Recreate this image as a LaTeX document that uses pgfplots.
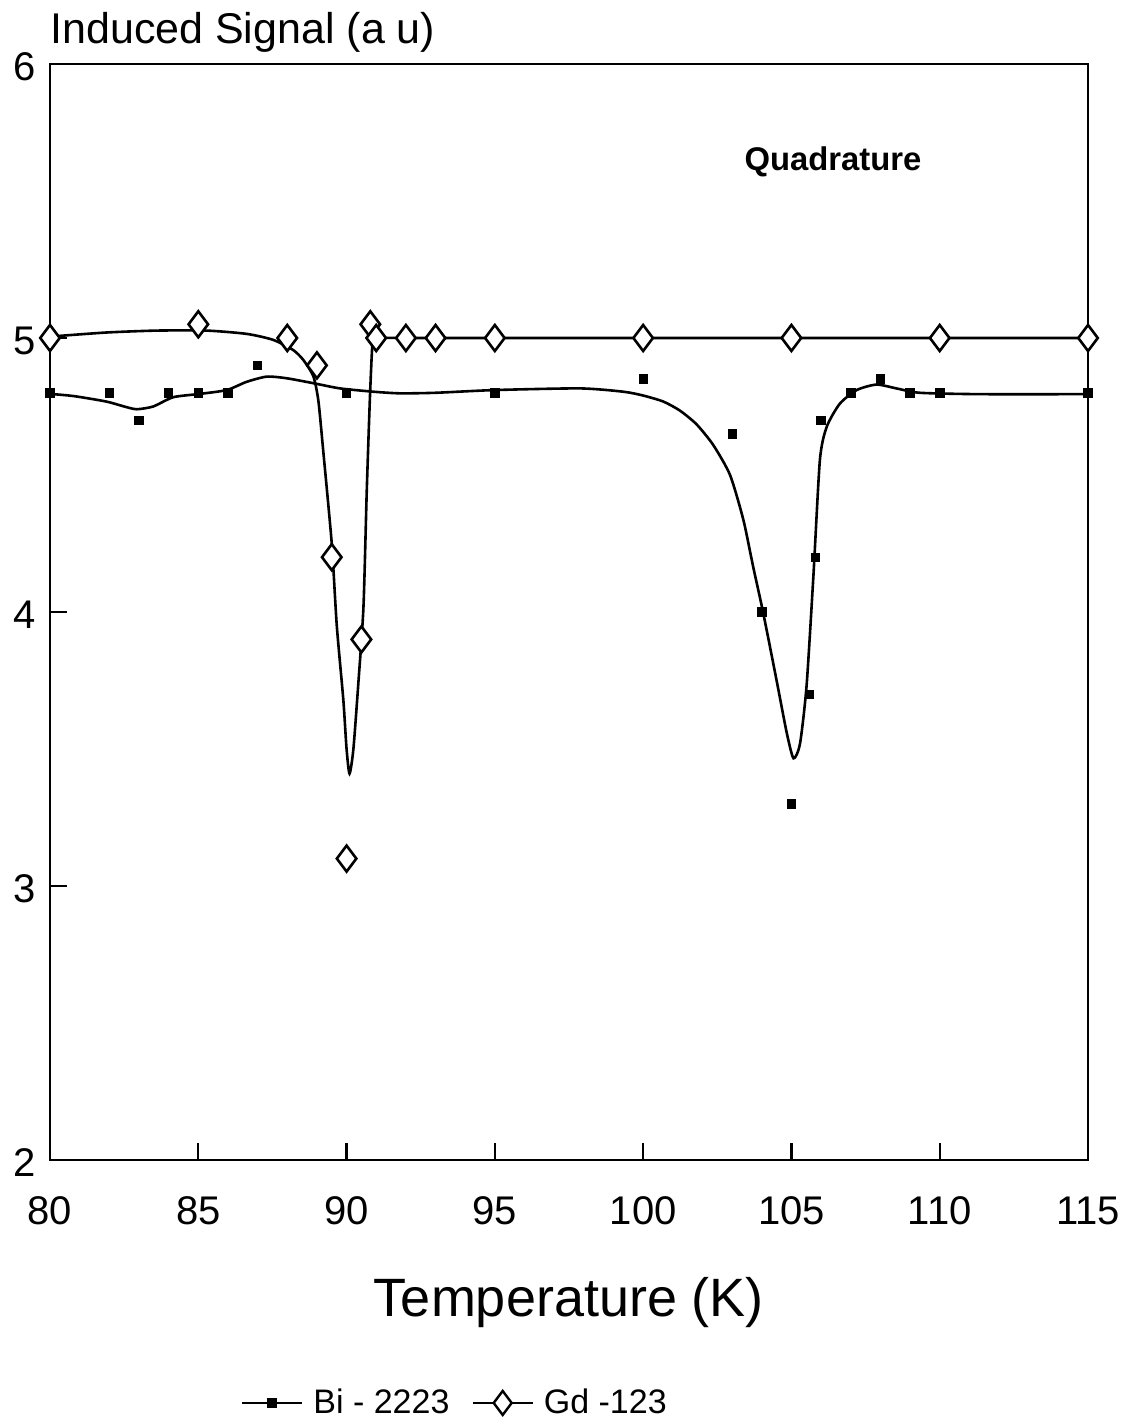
\documentclass[border=0pt]{standalone}
\usepackage{pgfplots}
\pgfplotsset{compat=1.18}
\usepackage{fontspec}
\setmainfont{Liberation Sans}
\begin{document}
\begin{tikzpicture}
\begin{axis}[name=ax,
  at={(25pt,131.5pt)}, anchor=south west,
  width=519pt, height=548pt, scale only axis,
  xmin=80, xmax=115, ymin=2, ymax=6,
  xtick={80,85,...,115}, ytick={2,3,4,5,6},
  xtick pos=bottom, ytick pos=left,
  tick align=inside, major tick length=8.5pt,
  axis line style={line width=1.3pt},
  tick style={line width=1.1pt, black},
  /pgf/number format/assume math mode=true,
  ticklabel style={font=\fontsize{20}{24}\selectfont},
  xticklabel style={yshift=-15pt},
  yticklabel style={xshift=-3.5pt, yshift=-1.5pt},
  legend style={draw=none, fill=none, at={(0.391,-0.2217)}, anchor=center,
    font=\fontsize{17}{20}\selectfont,
    /tikz/every odd column/.append style={column sep=3pt},
    /tikz/every even column/.append style={column sep=9pt}},
  legend columns=2,
  legend image code/.code={\draw[mark repeat=2,mark phase=2,#1] plot coordinates {(0pt,0pt) (15pt,0pt) (30pt,0pt)};},
]
% fitted curves
\addplot[black, line width=1.3pt, smooth, tension=0.4, forget plot] coordinates {
(80,4.796) (80.8,4.788) (81.9,4.768) (82.5,4.75) (82.92,4.74) (83.48,4.75)
(84.16,4.784) (85.06,4.796) (85.96,4.81) (86.63,4.84) (87.31,4.859) (87.98,4.853)
(88.88,4.835) (89.78,4.816) (90.9,4.804) (91.8,4.798) (93,4.80) (95,4.81)
(97.87,4.816) (99.33,4.804) (100.0,4.79) (100.68,4.768) (101.24,4.735) (101.8,4.685)
(102.36,4.61) (102.93,4.50) (103.38,4.336) (103.71,4.165) (104.05,3.996) (104.5,3.75)
(104.84,3.56) (105.07,3.466) (105.29,3.52) (105.51,3.73) (105.74,4.13) (105.96,4.555)
(106.19,4.676) (106.63,4.76) (107.2,4.81) (107.87,4.83) (108.54,4.816) (109.33,4.80)
(111.35,4.795) (115,4.795)
};
\addplot[black, line width=1.3pt, smooth, tension=0.4, forget plot] coordinates {
(80,5.005) (81.9,5.02) (83.6,5.027) (85.28,5.027) (86.63,5.015) (87.53,4.993)
(88.2,4.956) (88.54,4.92) (88.88,4.86) (89.05,4.77) (89.22,4.58) (89.5,4.25)
(89.67,3.95) (89.89,3.68) (90.0,3.50) (90.1,3.41) (90.23,3.50) (90.4,3.745)
(90.57,4.02) (90.68,4.44) (90.79,4.79) (90.88,4.99) (91.0,5.0) (93,5.0) (115,5.0)
};
% measured points
\addplot[only marks, mark=square*, mark size=2.1pt, black, forget plot] coordinates {
(80,4.8) (82,4.8) (83,4.7) (84,4.8) (85,4.8) (86,4.8) (87,4.9) (90,4.8) (95,4.8)
(100,4.85) (103,4.65) (104,4.0) (105,3.3) (105.6,3.7) (105.8,4.2) (106,4.7)
(107,4.8) (108,4.85) (109,4.8) (110,4.8) (115,4.8)
};
\addplot[only marks, mark=diamond*, mark size=6.5pt, black,
  mark options={fill=white, line width=1.3pt}, forget plot] coordinates {
(80,5.0) (85,5.05) (88,5.0) (89,4.9) (89.5,4.2) (90,3.1) (90.5,3.9) (90.8,5.05)
(91,5.0) (92,5.0) (93,5.0) (95,5.0) (100,5.0) (105,5.0) (110,5.0) (115,5.0)
};
\node[font=\fontsize{16.4}{20}\selectfont\bfseries] at (axis cs:106.4,5.642) {Quadrature};
\addlegendimage{black, line width=1.2pt, mark=square*, mark size=2pt}
\addlegendentry{Bi - 2223}
\addlegendimage{black, line width=1.2pt, mark=diamond*, mark size=6pt, mark options={fill=white, line width=1.2pt}}
\addlegendentry{Gd -123}
\end{axis}
\node[anchor=west, font=\fontsize{21.5}{25}\selectfont, inner sep=0pt] at ([yshift=16pt]ax.north west) {Induced Signal (a u)};
\node[anchor=center, font=\fontsize{27}{31}\selectfont] at ([yshift=-71.5pt]ax.south) {Temperature (K)};
\pgfresetboundingbox
\path (0,0) rectangle (565pt,711.5pt);
\end{tikzpicture}
\end{document}
